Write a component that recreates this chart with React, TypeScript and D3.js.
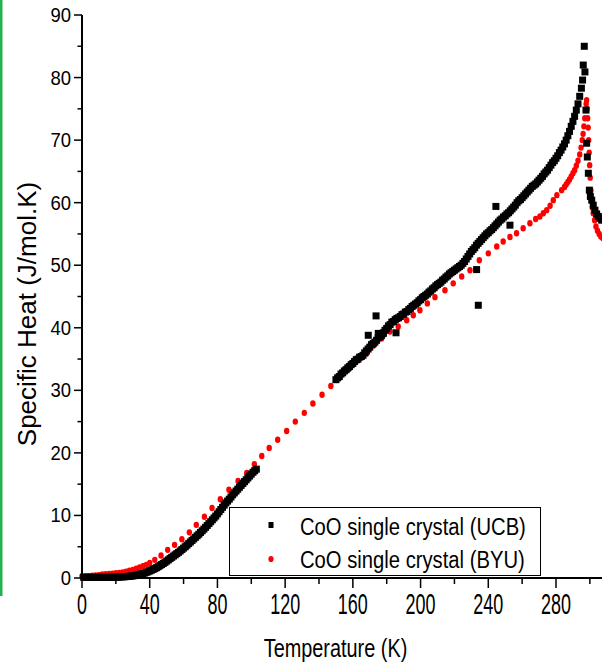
import React from "react";
import * as d3 from "d3";

// ---- Data ----
// UCB single crystal: low-temperature band  [T (K), C (J/mol.K)]
const ucbLow: [number, number][] = [
  [1,0.1],[2,0.1],[3,0.1],[4,0.1],[5,0.1],[6,0.1],[7,0.1],[8,0.1],[9,0.1],[10,0.1],[11,0.1],[12,0.1],[13,0.1],[14,0.1],[15,0.1],[16,0.1],
  [17,0.11],[18,0.12],[19,0.13],[20,0.14],[21,0.15],[22,0.17],[23,0.18],[24,0.19],[25,0.2],[26,0.22],[27,0.25],[28,0.27],[29,0.3],[30,0.34],
  [31,0.38],[32,0.44],[33,0.5],[34,0.57],[35,0.65],[36,0.72],[37,0.8],[38,0.9],[39,1.0],[40,1.12],[41,1.25],[42,1.37],[43,1.5],[44,1.65],
  [45,1.8],[46,1.97],[47,2.15],[48,2.32],[49,2.5],[50,2.7],[51,2.9],[52,3.1],[53,3.3],[54,3.5],[55,3.7],[56,3.9],[57,4.1],[58,4.32],
  [59,4.55],[60,4.78],[61,5.0],[62,5.25],[63,5.5],[64,5.75],[65,6.0],[66,6.25],[67,6.5],[68,6.75],[69,7.0],[70,7.28],[71,7.55],[72,7.82],
  [73,8.1],[74,8.4],[75,8.7],[76,9.0],[77,9.3],[78,9.6],[79,9.9],[80,10.25],[81,10.6],[82,10.95],[83,11.3],[84,11.65],[85,12.0],[86,12.3],
  [87,12.6],[88,12.95],[89,13.3],[90,13.6],[91,13.9],[92,14.2],[93,14.5],[94,14.8],[95,15.1],[96,15.4],[97,15.7],[98,16.0],[99,16.3],
  [100,16.6],[101,16.9],[102,17.15],[103,17.4],
];
// UCB single crystal: high-temperature band
const ucbHigh: [number, number][] = [
  [150,31.7],[151,32.0],[152,32.2],[153,32.6],[154,32.8],[155,33.1],[156,33.3],[157,33.6],[158,33.8],[159,34.1],[160,34.3],[161,34.6],
  [162,34.9],[163,35.0],[164,35.3],[165,35.4],[166,35.6],[167,36.0],[168,36.3],[169,36.6],[170,36.9],[171,37.3],[172,37.5],[173,37.7],
  [174,38.0],[175,38.4],[176,38.6],[177,38.8],[178,39.2],[179,39.6],[180,39.9],[181,40.3],[182,40.5],[183,40.9],[184,41.0],[185,41.3],
  [186,41.5],[187,41.6],[188,41.8],[189,42.1],[190,42.2],[191,42.5],[192,42.6],[193,42.9],[194,43.1],[195,43.4],[196,43.6],[197,43.8],
  [198,44.0],[199,44.3],[200,44.5],[201,44.8],[202,45.0],[203,45.2],[204,45.4],[205,45.7],[206,45.9],[207,46.2],[208,46.4],[209,46.7],
  [210,46.9],[211,47.1],[212,47.3],[213,47.6],[214,47.8],[215,48.1],[216,48.3],[217,48.6],[218,48.8],[219,49.0],[220,49.2],[221,49.4],
  [222,49.6],[223,49.8],[224,50.0],[225,50.3],[226,50.6],[227,51.0],[228,51.4],[229,51.8],[230,52.2],[231,52.5],[232,52.8],[233,53.2],
  [234,53.5],[235,53.8],[236,54.1],[237,54.4],[238,54.7],[239,55.0],[240,55.2],[241,55.5],[242,55.7],[243,56.0],[244,56.3],[245,56.6],
  [246,56.9],[247,57.2],[248,57.4],[249,57.7],[250,57.9],[251,58.2],[252,58.4],[253,58.7],[254,59.0],[255,59.3],[256,59.6],[257,60.0],
  [258,60.3],[259,60.5],[260,60.8],[261,61.1],[262,61.4],[263,61.7],[264,62.0],[265,62.3],[266,62.6],[267,62.8],[268,63.0],[269,63.3],
  [270,63.6],[271,63.9],[272,64.2],[273,64.6],[274,64.9],[275,65.2],[276,65.6],[277,66.0],[278,66.4],[279,66.7],[280,67.1],[281,67.5],
  [282,68.0],[283,68.4],[284,68.9],[285,69.4],[286,70.0],[287,70.7],[288,71.4],[289,72.2],[290,73.0],[291,73.8],[292,74.8],[293,75.8],
  [294,77.0],[295,78.3],[295.7,79.6],[296.1,82.0],[296.7,85.0],[297.1,80.9],[297.7,74.8],[298.1,69.5],[298.5,67.3],[299.1,64.7],
  [299.7,62.0],[300.3,61.0],[301.1,60.4],[302,59.6],[303,58.8],[304,58.2],[305,57.8],[306,57.5],[307,57.2],
];
// UCB scattered points
const ucbOutliers: [number, number][] = [
  [169.1,38.8],[173.7,41.9],[175,39.1],[178,39.1],[185.5,39.2],[233.1,49.3],[234.1,43.6],[244.5,59.4],[252.8,56.4],
];

// BYU single crystal
const byu: [number, number][] = [
  [0,0.3],[2,0.3],[4,0.3],[6,0.35],[8,0.4],[10,0.45],[12,0.55],[14,0.6],[16,0.65],[18,0.7],[20,0.75],[22,0.8],[24,0.9],[26,1.0],
  [28,1.15],[30,1.3],[32,1.5],[34,1.7],[36,1.9],[38,2.1],[40,2.4],[43,2.9],[46.7,3.6],[50.6,4.5],[54.7,5.3],[59,6.2],[63.4,7.3],
  [67.5,8.5],[72.3,9.8],[76.8,11.2],[81.7,12.6],[86.8,14.1],[92.2,15.5],[97.3,16.8],[101.8,18.2],[106.2,19.5],[110.6,20.8],
  [115.6,22.1],[120.9,23.5],[126,25.0],[131.3,26.4],[136.4,27.9],[141.8,29.3],[147,30.7],[152.2,32.1],[157.9,33.5],[163.2,34.8],
  [168.2,35.9],[172.5,37.2],[177,38.3],[181.9,39.4],[186.8,40.2],[191.8,41.2],[195.7,42.0],[199.6,42.8],[204,43.9],[208.5,44.9],
  [214.4,46.0],[219.3,47.1],[224.3,48.2],[229.2,49.2],[234.7,50.8],[240,51.9],[245,53.0],[248.8,53.8],[252.8,54.5],[256.7,55.1],
  [260.6,55.9],[264.6,56.7],[268,57.4],[270.5,57.8],[272.5,58.3],[274.5,58.8],[276.5,59.5],[278.4,60.4],[280.5,61.2],[283.3,62.0],
  [285,62.5],[286,62.9],[287,63.3],[288,63.7],[289,64.2],[290,64.7],[291,65.2],[292,65.9],[293,66.7],[294,67.7],[294.8,68.8],
  [295.5,70.0],[296,71.0],[296.5,72.2],[297,73.5],[297.5,74.8],[297.8,75.8],[298.1,76.4],[298.4,75.0],[298.7,73.5],[299,72.0],
  [299.3,70.0],[299.6,68.0],[299.9,66.0],[300.2,64.0],[300.6,62.0],[301,60.5],[301.5,59.2],[302,58.3],[302.8,57.2],[303.6,56.2],
  [304.5,55.5],[305.5,55.0],[306.5,54.6],[307.5,54.3],
];

const xTicks = d3.range(0, 301, 20);
const yTicks = d3.range(0, 91, 5);
const legendLabels = ["CoO single crystal (UCB)", "CoO single crystal (BYU)"];

const W = 602;
const H = 665;
const FONT = "'Liberation Sans', Arial, sans-serif";

export default function App() {
  const x = d3.scaleLinear().domain([0, 280]).range([82, 556]);
  const y = d3.scaleLinear().domain([0, 90]).range([578, 15]);

  const ucb = [...ucbLow, ...ucbHigh, ...ucbOutliers];
  const sq = 7;

  return (
    <svg width={W} height={H} style={{ position: "absolute", left: 0, top: 0, background: "#fff" }} fontFamily={FONT}>
      <rect x={0} y={0} width={W} height={H} fill="#fff" />
      {/* green side bar */}
      <rect x={0} y={0} width={2.5} height={596} fill="#22b14c" />

      {/* BYU red dots */}
      <g fill="#ff0000">
        {byu.map(([t, c], i) => (
          <ellipse key={"b" + i} cx={x(t)} cy={y(c)} rx={2.7} ry={3.2} />
        ))}
      </g>
      {/* UCB black squares */}
      <g fill="#000">
        {ucb.map(([t, c], i) => (
          <rect key={"u" + i} x={x(t) - sq / 2} y={y(c) - sq / 2} width={sq} height={sq} />
        ))}
      </g>

      {/* axes */}
      <line x1={x(0)} x2={W} y1={y(0)} y2={y(0)} stroke="#000" strokeWidth={2} />
      <line x1={x(0)} x2={x(0)} y1={y(90)} y2={y(0) + 1} stroke="#000" strokeWidth={2} />

      {xTicks.map((t) => {
        const major = t % 40 === 0;
        return (
          <g key={"xt" + t}>
            <line x1={x(t)} x2={x(t)} y1={y(0)} y2={y(0) + (major ? 10 : 6)} stroke="#000" strokeWidth={1.5} />
            {major && (
              <text
                transform={`translate(${x(t)},614) scale(0.62,1)`}
                textAnchor="middle"
                fontSize={29}
                fill="#000"
              >
                {t}
              </text>
            )}
          </g>
        );
      })}

      {yTicks.map((t) => {
        const major = t % 10 === 0;
        return (
          <g key={"yt" + t}>
            <line x1={x(0) - (major ? 8 : 4.5)} x2={x(0)} y1={y(t)} y2={y(t)} stroke="#000" strokeWidth={1.5} />
            {major && (
              <text
                transform={`translate(71,${y(t) + 7}) scale(0.95,1)`}
                textAnchor="end"
                fontSize={19.5}
                fill="#000"
              >
                {t}
              </text>
            )}
          </g>
        );
      })}

      {/* axis titles */}
      <text transform="translate(335.5,657) scale(0.75,1)" textAnchor="middle" fontSize={26.5} fill="#000">
        Temperature (K)
      </text>
      <text transform="translate(36,314) rotate(-90)" textAnchor="middle" fontSize={26} fill="#000">
        Specific Heat (J/mol.K)
      </text>

      {/* legend */}
      <rect x={229.5} y={507.5} width={311} height={68} fill="#fff" stroke="#000" strokeWidth={1} />
      <rect x={271 - 2.5} y={525 - 3} width={5} height={6} fill="#000" />
      <ellipse cx={271} cy={559} rx={2.6} ry={3.1} fill="#ff0000" />
      {legendLabels.map((l, i) => (
        <text
          key={l}
          transform={`translate(300,${535 + i * 33}) scale(0.826,1)`}
          fontSize={24.5}
          fill="#000"
        >
          {l}
        </text>
      ))}
    </svg>
  );
}
